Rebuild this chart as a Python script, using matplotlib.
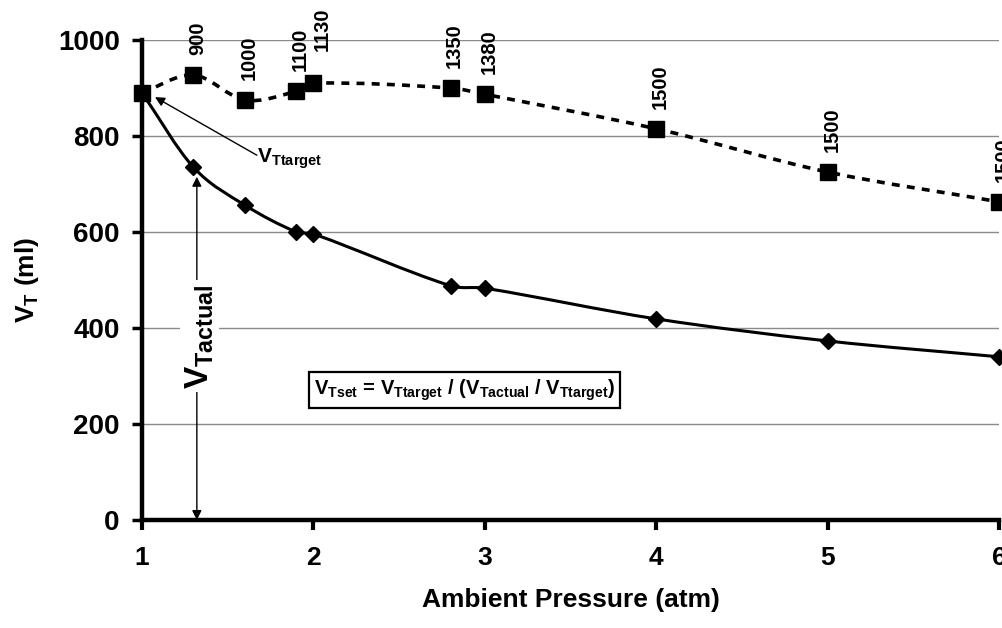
import matplotlib
matplotlib.use("Agg")
import matplotlib.pyplot as plt
from matplotlib.path import Path
from matplotlib.patches import PathPatch

plt.rcParams["font.family"] = ["Liberation Sans", "DejaVu Sans"]
plt.rcParams["font.weight"] = "bold"
plt.rcParams["mathtext.fontset"] = "custom"
plt.rcParams["mathtext.rm"] = "Liberation Sans:bold"
plt.rcParams["mathtext.it"] = "Liberation Sans:bold"
plt.rcParams["mathtext.bf"] = "Liberation Sans:bold"

# ── data ─────────────────────────────────────────────────────────────────────
pressure   = [1.0, 1.3, 1.6, 1.9, 2.0, 2.8, 3.0, 4.0, 5.0, 6.0]
vt_set     = [890, 927, 875, 893, 910, 900, 887, 815, 725, 663]
vt_actual  = [890, 735, 656, 600, 596, 488, 483, 419, 373, 340]
set_labels = ["", "900", "1000", "1100", "1130", "1350", "1380", "1500", "1500", "1500"]

x_ticks = [1, 2, 3, 4, 5, 6]
y_ticks = [0, 200, 400, 600, 800, 1000]


def smooth_path(xs, ys):
    """Smoothed line through the points as cubic Bezier segments (Hermite, slope per point)."""
    n = len(xs)
    slopes = []
    for i in range(n):
        a, b = max(i - 1, 0), min(i + 1, n - 1)
        slopes.append((ys[b] - ys[a]) / (xs[b] - xs[a]))
    verts, codes = [(xs[0], ys[0])], [Path.MOVETO]
    for i in range(n - 1):
        dx = (xs[i + 1] - xs[i]) / 3
        verts += [(xs[i] + dx, ys[i] + slopes[i] * dx),
                  (xs[i + 1] - dx, ys[i + 1] - slopes[i + 1] * dx),
                  (xs[i + 1], ys[i + 1])]
        codes += [Path.CURVE4] * 3
    return Path(verts, codes)


fig = plt.figure(figsize=(10.02, 6.28), dpi=100)
ax = fig.add_axes([142 / 1002, 1 - 520 / 628, (999 - 142) / 1002, 480 / 628])

# gridlines
for y in y_ticks[1:]:
    ax.axhline(y, color="#8a8a8a", lw=1.0, zorder=0.5)

# smoothed lines
ax.add_patch(PathPatch(smooth_path(pressure, vt_set), fill=False, color="black",
                       lw=2.6, ls=(0, (2.2, 2.0)), zorder=2, clip_on=False))
ax.add_patch(PathPatch(smooth_path(pressure, vt_actual), fill=False, color="black",
                       lw=2.2, zorder=2, clip_on=False))

ax.plot(pressure, vt_actual, "D", color="black", ms=8, zorder=3, clip_on=False)
ax.plot(pressure, vt_set, "s", color="black", ms=12, zorder=4, clip_on=False)

# rotated value labels above squares
for x, y, lab in zip(pressure, vt_set, set_labels):
    if not lab:
        continue
    off = (6.5, 23) if lab == "1130" else (3, 14.5)
    ax.annotate(lab, xy=(x, y), xytext=off, textcoords="offset points",
                rotation=90, ha="center", va="bottom", fontsize=14.5,
                fontweight="bold", annotation_clip=False)

# V_Ttarget arrow
ax.annotate("", xy=(1.076, 881), xytext=(1.67, 760),
            arrowprops=dict(arrowstyle="-|>", color="black", lw=1.0,
                            mutation_scale=14, shrinkA=0, shrinkB=0))
ax.text(1.67, 744, r"$\mathrm{V_{Ttarget}}$", fontsize=15, ha="left", va="baseline")

# V_Tactual double arrow
ax.annotate("", xy=(1.32, 715), xytext=(1.32, 0),
            arrowprops=dict(arrowstyle="<|-|>", color="black", lw=1.0,
                            mutation_scale=14, shrinkA=0, shrinkB=0))
ax.text(1.335, 383, r"$\mathrm{V_{Tactual}}$", fontsize=24, rotation=90,
        ha="center", va="center",
        bbox=dict(facecolor="white", edgecolor="none", boxstyle="square,pad=0.1"))

# formula box
ax.text(2.88, 271,
        r"$\mathrm{V_{Tset}}$ = $\mathrm{V_{Ttarget}}$ / ($\mathrm{V_{Tactual}}$ / $\mathrm{V_{Ttarget}}$)",
        fontsize=14.5, fontweight="bold", ha="center", va="center",
        bbox=dict(facecolor="white", edgecolor="black", lw=1.6,
                  boxstyle="square,pad=0.25"))

ax.set_xlim(1, 6)
ax.set_ylim(0, 1000)
ax.set_xticks(x_ticks)
ax.set_yticks(y_ticks)
ax.set_xticklabels([str(t) for t in x_ticks], fontsize=19, fontweight="bold")
ax.set_yticklabels([str(t) for t in y_ticks], fontsize=20, fontweight="bold")
ax.tick_params(axis="x", direction="out", length=7, width=3, pad=12)
ax.tick_params(axis="y", direction="out", length=7, width=2.5, pad=9)

for side in ("top", "right"):
    ax.spines[side].set_visible(False)
for side in ("left", "bottom"):
    ax.spines[side].set_linewidth(3.2)

ax.set_xlabel("Ambient Pressure (atm)", fontsize=19, fontweight="bold", labelpad=13)
ax.set_ylabel(r"$\mathrm{V_T}$ (ml)", fontsize=19, fontweight="bold", labelpad=12)

fig.savefig("out.png", dpi=100)
